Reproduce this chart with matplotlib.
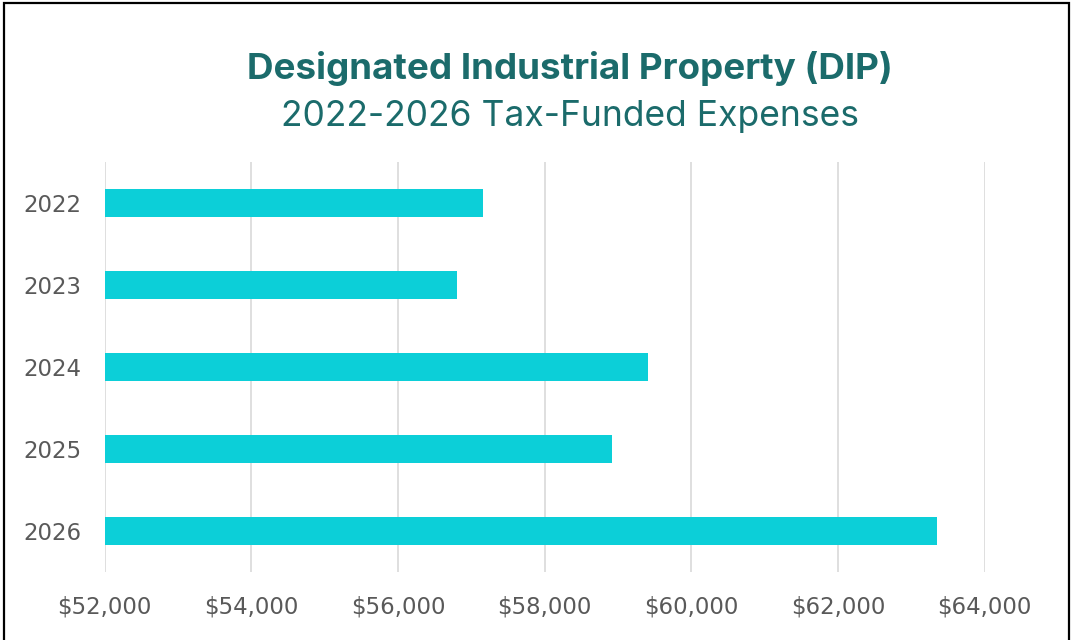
import matplotlib
matplotlib.use("Agg")
import matplotlib.pyplot as plt
from matplotlib.patches import Rectangle

# DIP tax-funded expenses by year
years = ["2022", "2023", "2024", "2025", "2026"]
expenses = [57166, 56808, 59413, 58926, 63346]
x_ticks = [52000, 54000, 56000, 58000, 60000, 62000, 64000]
x_tick_labels = ["$52,000", "$54,000", "$56,000", "$58,000", "$60,000", "$62,000", "$64,000"]

bar_color = "#0ccfd8"
title_color = "#1b6b6b"
label_color = "#595959"

plt.rcParams['font.family'] = ['DejaVu Sans']

fig = plt.figure(figsize=(10.72, 6.4), dpi=100)
ax = fig.add_axes([0.0976, 0.1063, 0.8208, 0.6406])

pos = list(range(len(years)))
ax.barh(pos, [v - x_ticks[0] for v in expenses], left=x_ticks[0], height=0.35,
        color=bar_color, zorder=3)
ax.set_ylim(len(years) - 0.5, -0.5)
ax.set_xlim(x_ticks[0], x_ticks[-1])

ax.set_yticks(pos)
ax.set_yticklabels(years, fontsize=16.5, color=label_color)
ax.set_xticks(x_ticks)
ax.set_xticklabels(x_tick_labels, fontsize=16.5, color=label_color)
ax.tick_params(axis='both', length=0)
ax.tick_params(axis='y', pad=17)
ax.tick_params(axis='x', pad=17)

ax.grid(axis='x', color='#d9d9d9', linewidth=1.2, zorder=0)
ax.set_axisbelow(True)
for s in ax.spines.values():
    s.set_visible(False)

fig.text(0.532, 0.893, "Designated Industrial Property (DIP)", ha='center', va='center',
         fontsize=26.5, fontweight='bold', color=title_color, family=['Inter', 'DejaVu Sans'])
fig.text(0.532, 0.818, "2022-2026 Tax-Funded Expenses", ha='center', va='center',
         fontsize=25.5, color=title_color, family=['Inter', 'DejaVu Sans'])

# outer frame
fig.patches.append(Rectangle((0.004, -0.01), 0.993, 1.005, transform=fig.transFigure,
                             fill=False, edgecolor='black', linewidth=1.6))

fig.savefig("out.png", dpi=100)
